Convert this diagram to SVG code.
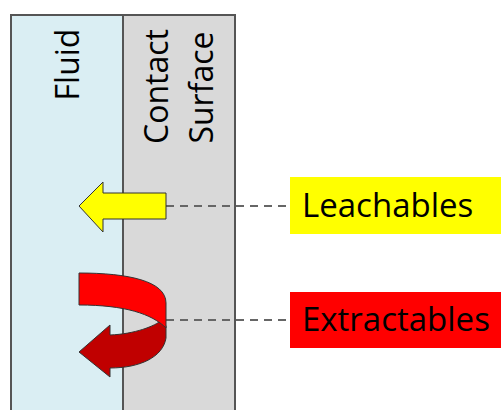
<svg xmlns="http://www.w3.org/2000/svg" width="501" height="410" viewBox="0 0 501 410">
<style>
.lbl{font-family:"Open Sans","Liberation Sans",sans-serif;font-size:32px;fill:#000}
.big{font-size:33px}
.col{stroke:#555;stroke-width:2}
.arr{stroke:#333;stroke-width:1}
.dash{stroke:#666;stroke-width:2;stroke-dasharray:8 6;fill:none}
</style>
<rect width="501" height="410" fill="#fff"/>
<g id="fluid">
<rect class="col" x="11" y="15" width="112" height="400" fill="#daeef3"/>
<text class="lbl" text-anchor="middle" transform="translate(79,64.5) rotate(-90)">Fluid</text>
</g>
<g id="contact-surface">
<rect class="col" x="123" y="15" width="112" height="400" fill="#d9d9d9"/>
<text class="lbl" text-anchor="middle" transform="translate(168,86.5) rotate(-90)">Contact</text>
<text class="lbl" text-anchor="middle" transform="translate(213,87.5) rotate(-90)">Surface</text>
</g>
<g id="connectors">
<line class="dash" x1="166" y1="206" x2="290" y2="206"/>
<line class="dash" x1="166" y1="320" x2="290" y2="320"/>
</g>
<g id="leach-arrow">
<path class="arr" fill="#ffff00" d="M79,206 L103,182 L103,193 L166,193 L166,219 L103,219 L103,232 Z"/>
</g>
<g id="extract-arrow">
<path class="arr" fill="#c00000" d="M110,335 C135,334 155,326 162,320 L166,326 L166,338 C163,357 140,368 110,368 L110,377 L79,352 L110,325 Z"/>
<path class="arr" fill="#ff0000" d="M79,273 C128,273 166,281 166,303 L166,328 C152,314 125,305 79,305 Z"/>
</g>
<g id="leachables">
<rect x="290" y="177" width="220" height="57" fill="#ffff00"/>
<text class="lbl big" x="302" y="217">Leachables</text>
</g>
<g id="extractables">
<rect x="290" y="292" width="220" height="56" fill="#ff0000"/>
<text class="lbl big" x="302" y="331">Extractables</text>
</g>
</svg>
